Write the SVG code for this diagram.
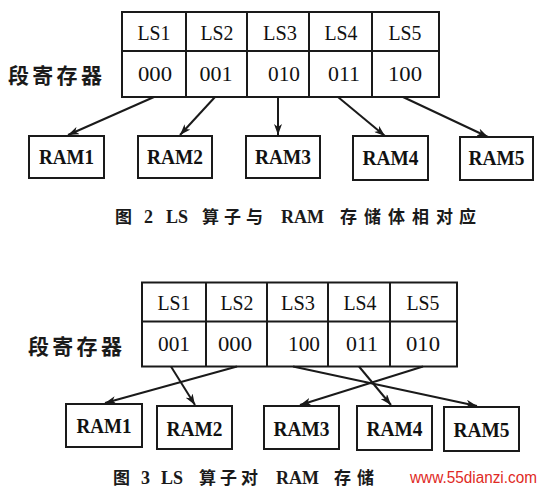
<svg xmlns="http://www.w3.org/2000/svg" width="546" height="496" viewBox="0 0 546 496">
<defs>
<style>
.grid{fill:none;stroke:#1a1a1a;stroke-width:2}
.box{fill:#fff;stroke:#1a1a1a;stroke-width:2}
.ls{font-family:"Liberation Serif","Times New Roman","DejaVu Serif",serif;font-size:21px;fill:#111;text-anchor:middle}
.ram{font-family:"Liberation Serif","Times New Roman","DejaVu Serif",serif;font-size:22px;font-weight:bold;fill:#111;text-anchor:middle}
.lbl{font-family:"Noto Sans CJK SC",sans-serif;font-size:21px;font-weight:bold;fill:#1a1a1a;letter-spacing:3.3px}
.cap{font-family:"Noto Sans CJK SC",sans-serif;font-size:17px;font-weight:bold;fill:#1a1a1a}
.capl{font-family:"Liberation Serif","Times New Roman","DejaVu Serif",serif;font-size:18px;font-weight:bold;fill:#1a1a1a}
.conn line{stroke:#1a1a1a;stroke-width:2;marker-end:url(#ah)}
.wm{font-family:"Liberation Sans",Arial,sans-serif;font-size:16px;fill:#e02a24}
</style>
<marker id="ah" viewBox="0 0 11 8" refX="11" refY="4" markerWidth="11" markerHeight="8" markerUnits="userSpaceOnUse" orient="auto">
<path d="M0,0 L11,4 L0,8 L3,4 Z" fill="#1a1a1a"/>
</marker>
</defs>
<rect width="546" height="496" fill="#fff"/>

<!-- Figure 2 -->
<g id="fig2-register">
<rect class="grid" x="122" y="12" width="317" height="85"/>
<line class="grid" x1="122" y1="51" x2="439" y2="51"/>
<line class="grid" x1="186" y1="12" x2="186" y2="97"/>
<line class="grid" x1="247" y1="12" x2="247" y2="97"/>
<line class="grid" x1="309" y1="12" x2="309" y2="97"/>
<line class="grid" x1="372" y1="12" x2="372" y2="97"/>
<text class="ls" x="154" y="40" textLength="33" lengthAdjust="spacingAndGlyphs">LS1</text>
<text class="ls" x="217" y="40" textLength="33" lengthAdjust="spacingAndGlyphs">LS2</text>
<text class="ls" x="280" y="40" textLength="34" lengthAdjust="spacingAndGlyphs">LS3</text>
<text class="ls" x="341" y="40" textLength="33" lengthAdjust="spacingAndGlyphs">LS4</text>
<text class="ls" x="405" y="40" textLength="33" lengthAdjust="spacingAndGlyphs">LS5</text>
<text class="ls" x="155" y="81" textLength="34" lengthAdjust="spacingAndGlyphs">000</text>
<text class="ls" x="216" y="81" textLength="33" lengthAdjust="spacingAndGlyphs">001</text>
<text class="ls" x="284" y="81" textLength="32" lengthAdjust="spacingAndGlyphs">010</text>
<text class="ls" x="344" y="81" textLength="32" lengthAdjust="spacingAndGlyphs">011</text>
<text class="ls" x="405" y="81" textLength="34" lengthAdjust="spacingAndGlyphs">100</text>
</g>
<g id="fig2-label"><text class="lbl" x="8" y="83">段寄存器</text></g>
<g id="fig2-ram1"><rect class="box" x="29" y="136" width="75" height="42"/><text class="ram" x="66.5" y="164" textLength="55" lengthAdjust="spacingAndGlyphs">RAM1</text></g>
<g id="fig2-ram2"><rect class="box" x="138" y="136" width="74" height="42"/><text class="ram" x="175" y="164" textLength="56" lengthAdjust="spacingAndGlyphs">RAM2</text></g>
<g id="fig2-ram3"><rect class="box" x="246" y="136" width="74" height="42"/><text class="ram" x="283" y="164" textLength="56" lengthAdjust="spacingAndGlyphs">RAM3</text></g>
<g id="fig2-ram4"><rect class="box" x="353" y="136" width="75" height="44"/><text class="ram" x="390.5" y="165" textLength="56" lengthAdjust="spacingAndGlyphs">RAM4</text></g>
<g id="fig2-ram5"><rect class="box" x="460" y="137" width="73" height="43"/><text class="ram" x="496.5" y="165" textLength="56" lengthAdjust="spacingAndGlyphs">RAM5</text></g>
<g id="fig2-connectors" class="conn">
<line x1="154" y1="97" x2="68" y2="135"/>
<line x1="215" y1="97" x2="180" y2="135"/>
<line x1="278" y1="97" x2="278" y2="135"/>
<line x1="338" y1="97" x2="385" y2="136"/>
<line x1="403" y1="97" x2="488" y2="137"/>
</g>
<g id="fig2-caption">
<text class="cap" y="223"><tspan x="115">图</tspan></text>
<text class="capl" y="223"><tspan x="144">2</tspan><tspan x="166">LS</tspan></text>
<text class="cap" y="223"><tspan x="202">算</tspan><tspan x="224">子</tspan><tspan x="246">与</tspan></text>
<text class="capl" y="223"><tspan x="281">RAM</tspan></text>
<text class="cap" y="223"><tspan x="340">存</tspan><tspan x="364">储</tspan><tspan x="388">体</tspan><tspan x="412">相</tspan><tspan x="436">对</tspan><tspan x="459">应</tspan></text>
</g>

<!-- Figure 3 -->
<g id="fig3-register">
<rect class="grid" x="142" y="282.5" width="315" height="84"/>
<line class="grid" x1="142" y1="321.5" x2="457" y2="321.5"/>
<line class="grid" x1="206" y1="282.5" x2="206" y2="366.5"/>
<line class="grid" x1="267" y1="282.5" x2="267" y2="366.5"/>
<line class="grid" x1="328" y1="282.5" x2="328" y2="366.5"/>
<line class="grid" x1="390" y1="282.5" x2="390" y2="366.5"/>
<text class="ls" x="174" y="310" textLength="33" lengthAdjust="spacingAndGlyphs">LS1</text>
<text class="ls" x="237" y="310" textLength="33" lengthAdjust="spacingAndGlyphs">LS2</text>
<text class="ls" x="298" y="310" textLength="34" lengthAdjust="spacingAndGlyphs">LS3</text>
<text class="ls" x="360" y="310" textLength="33" lengthAdjust="spacingAndGlyphs">LS4</text>
<text class="ls" x="423" y="310" textLength="33" lengthAdjust="spacingAndGlyphs">LS5</text>
<text class="ls" x="174" y="351" textLength="32" lengthAdjust="spacingAndGlyphs">001</text>
<text class="ls" x="235" y="351" textLength="34" lengthAdjust="spacingAndGlyphs">000</text>
<text class="ls" x="304" y="351" textLength="32" lengthAdjust="spacingAndGlyphs">100</text>
<text class="ls" x="362" y="351" textLength="32" lengthAdjust="spacingAndGlyphs">011</text>
<text class="ls" x="423" y="351" textLength="34" lengthAdjust="spacingAndGlyphs">010</text>
</g>
<g id="fig3-label"><text class="lbl" x="28" y="354">段寄存器</text></g>
<g id="fig3-ram1"><rect class="box" x="66" y="404" width="76" height="43"/><text class="ram" x="104" y="433" textLength="55" lengthAdjust="spacingAndGlyphs">RAM1</text></g>
<g id="fig3-ram2"><rect class="box" x="157" y="406" width="75" height="43"/><text class="ram" x="194.5" y="436" textLength="56" lengthAdjust="spacingAndGlyphs">RAM2</text></g>
<g id="fig3-ram3"><rect class="box" x="264" y="406" width="75" height="43"/><text class="ram" x="301.5" y="436" textLength="56" lengthAdjust="spacingAndGlyphs">RAM3</text></g>
<g id="fig3-ram4"><rect class="box" x="357" y="406" width="75" height="44"/><text class="ram" x="394.5" y="436" textLength="56" lengthAdjust="spacingAndGlyphs">RAM4</text></g>
<g id="fig3-ram5"><rect class="box" x="444" y="407" width="75" height="44"/><text class="ram" x="481.5" y="437" textLength="56" lengthAdjust="spacingAndGlyphs">RAM5</text></g>
<g id="fig3-connectors" class="conn">
<line x1="171" y1="366.5" x2="195" y2="405"/>
<line x1="237" y1="366.5" x2="105" y2="403"/>
<line x1="293" y1="366.5" x2="477" y2="406"/>
<line x1="359" y1="366.5" x2="391" y2="405"/>
<line x1="423" y1="366.5" x2="300" y2="405"/>
</g>
<g id="fig3-caption">
<text class="cap" y="484"><tspan x="113">图</tspan></text>
<text class="capl" y="484"><tspan x="141">3</tspan><tspan x="161">LS</tspan></text>
<text class="cap" y="484"><tspan x="199">算</tspan><tspan x="220">子</tspan><tspan x="241">对</tspan></text>
<text class="capl" y="484"><tspan x="276">RAM</tspan></text>
<text class="cap" y="484"><tspan x="334">存</tspan><tspan x="357">储</tspan></text>
<text class="wm" x="410" y="483" textLength="127" lengthAdjust="spacingAndGlyphs">www.55dianzi.com</text>
</g>
</svg>
